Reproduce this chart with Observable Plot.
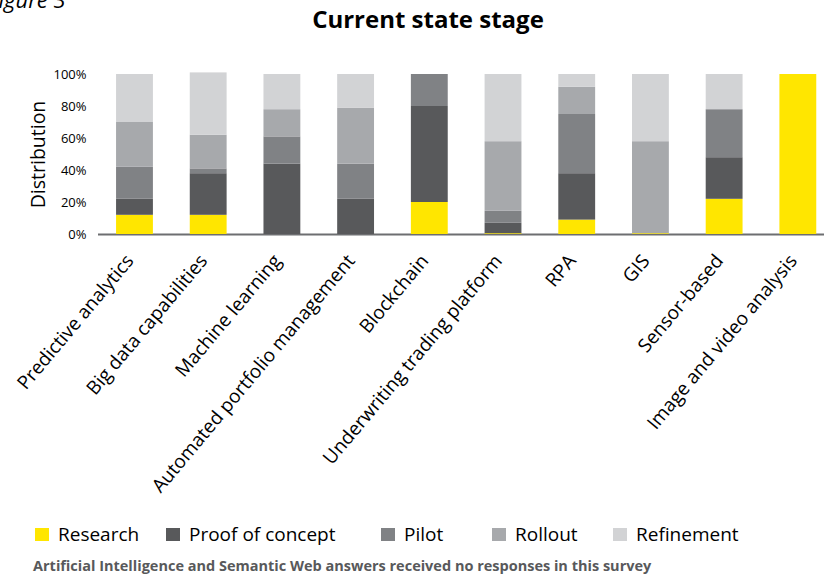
<!DOCTYPE html>
<html>
<head>
<meta charset="utf-8">
<script src="https://cdn.jsdelivr.net/npm/d3@7"></script>
<script src="https://cdn.jsdelivr.net/npm/@observablehq/plot@0.6"></script>
<style>
  html, body { margin: 0; padding: 0; background: #fff; }
  #wrap { position: relative; width: 824px; height: 576px; overflow: hidden; font-family: "Open Sans", sans-serif; }
  #fig { position: absolute; left: -12px; top: -12px; font-size: 22px; line-height: 22px; font-style: italic; color: #000; white-space: nowrap; }
  #title { position: absolute; left: 0; top: 3px; width: 824px; padding-left: 32px; box-sizing: border-box; text-align: center; font-size: 24px; font-weight: 700; color: #000; line-height: 32px; }
  #chart { position: absolute; left: 0; top: 44px; }
  .leg { position: absolute; top: 522px; display: flex; align-items: center; font-size: 19px; line-height: 24px; color: #000; white-space: nowrap; }
  .sw { width: 14px; height: 13px; margin-right: 9px; }
  #caption { position: absolute; left: 33px; top: 557px; font-size: 14.5px; font-weight: 700; color: #58595b; white-space: nowrap; line-height: 18px; }
</style>
</head>
<body>
<div id="wrap">
  <div id="fig">Figure 3</div>
  <div id="title">Current state stage</div>
  <div id="chart"></div>
  <div id="legend"></div>
  <div id="caption">Artificial Intelligence and Semantic Web answers received no responses in this survey</div>
</div>
<script>
const categories = ["Predictive analytics", "Big data capabilities", "Machine learning", "Automated portfolio management", "Blockchain", "Underwriting trading platform", "RPA", "GIS", "Sensor-based", "Image and video analysis"];
const stages = ["Research", "Proof of concept", "Pilot", "Rollout", "Refinement"];
const research       = [12, 12, 0, 0, 20, 0.5, 9, 0.5, 22, 100];
const proofOfConcept = [10, 26, 44, 22, 60, 6.5, 29, 0, 26, 0];
const pilot          = [20, 3, 17, 22, 20, 7.5, 37, 0, 30, 0];
const rollout        = [28, 21, 17, 35, 0, 43.5, 17, 57.5, 0, 0];
const refinement     = [30, 39, 22, 21, 0, 42, 8, 42, 22, 0];
const yTicks = [0, 20, 40, 60, 80, 100];
const stageColors = ["#ffe600", "#58595b", "#808285", "#a7a9ac", "#d2d3d5"];
const legendLeft = [35, 166, 381, 492, 613];

const series = [research, proofOfConcept, pilot, rollout, refinement];
const table = [];
categories.forEach((c, i) => {
  stages.forEach((s, j) => table.push({category: c, stage: s, value: series[j][i]}));
});

const chart = Plot.plot({
  width: 824,
  height: 470,
  marginTop: 30,
  marginBottom: 280,
  marginLeft: 98,
  marginRight: 0,
  style: {fontFamily: "Open Sans", color: "#000", background: "#fff", overflow: "visible"},
  x: {domain: categories, paddingInner: 0.5, paddingOuter: 0.175, align: 0.7, round: false, label: null},
  y: {domain: [0, 100], label: null},
  color: {domain: stages, range: stageColors},
  marks: [
    Plot.ruleY([0], {stroke: "#6d6e71", strokeWidth: 2}),
    Plot.barY(table, {x: "category", y: "value", fill: "stage"}),
    Plot.axisX({tickSize: 0, tickPadding: 23, tickRotate: -50, fontSize: 19, dx: -5, label: null, fill: "#000"}),
    Plot.axisY({ticks: yTicks, tickFormat: d => d + "%", tickSize: 0, tickPadding: 12, fontSize: 13, label: null, fill: "#000"}),
    Plot.text(["Distribution"], {frameAnchor: "left", textAnchor: "middle", dx: -60, rotate: -90, fontSize: 19.5, fill: "#000"})
  ]
});
document.getElementById("chart").appendChild(chart);

const legend = document.getElementById("legend");
stages.forEach((s, i) => {
  const item = document.createElement("div");
  item.className = "leg";
  item.style.left = legendLeft[i] + "px";
  const sw = document.createElement("span");
  sw.className = "sw";
  sw.style.background = stageColors[i];
  const t = document.createElement("span");
  t.textContent = s;
  item.appendChild(sw);
  item.appendChild(t);
  legend.appendChild(item);
});
</script>
</body>
</html>
